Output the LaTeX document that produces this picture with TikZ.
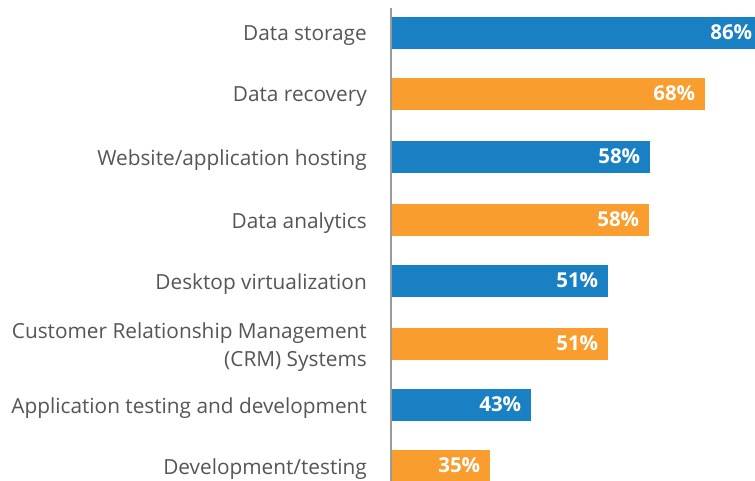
\documentclass[tikz,border=0pt]{standalone}
\usepackage{fontspec}
\setmainfont{Open Sans}
\usepackage{tikz}
\usetikzlibrary{positioning}
\definecolor{barblue}{HTML}{1A80C4}
\definecolor{barorange}{HTML}{F89D2E}
\definecolor{labelgray}{HTML}{555555}
\definecolor{axisgray}{HTML}{9A9A9A}

\begin{document}
\begin{tikzpicture}[x=1pt,y=-1pt]
            \tikzset{bar/.style={draw=none, inner sep=0pt, minimum height=32pt, anchor=west},
                    pct/.style={text=white, font=\fontsize{20.5}{22}\selectfont\bfseries, anchor=east, inner sep=0pt},
                    lbl/.style={text=labelgray, font=\fontsize{20.8}{28}\selectfont, anchor=east, align=right, inner sep=0pt}}
            \useasboundingbox (0,0) rectangle (755,481);
            \foreach \i/\yy/\xend/\col/\val/\txt in {
                    1/33/762/barblue/86/{Data storage},
                    2/94/705/barorange/68/{Data recovery},
                    3/157/650/barblue/58/{Website/application hosting},
                    4/220/649/barorange/58/{Data analytics},
                    5/281/608/barblue/51/{Desktop virtualization},
                    6/344/608/barorange/51/{Customer Relationship Management\\(CRM) Systems},
                    7/405/531/barblue/43/{Application testing and development},
                    8/466/490/barorange/35/{Development/testing}} {
                \node[bar, fill=\col, minimum width={(\xend-391)*1pt}] (bar\i) at (391,\yy) {};
                \node[pct] (val\i) at ([xshift=-10pt,yshift=1pt]bar\i.east) {\val\%};
                \node[lbl] (lab\i) at (367,\yy+3) {\txt};
            }
            \coordinate (top) at (391,8);
            \coordinate (bottom) at (391,481);
            \draw[axisgray, line width=1.5pt] (top) -- (bottom);
        \end{tikzpicture}
\end{document}
